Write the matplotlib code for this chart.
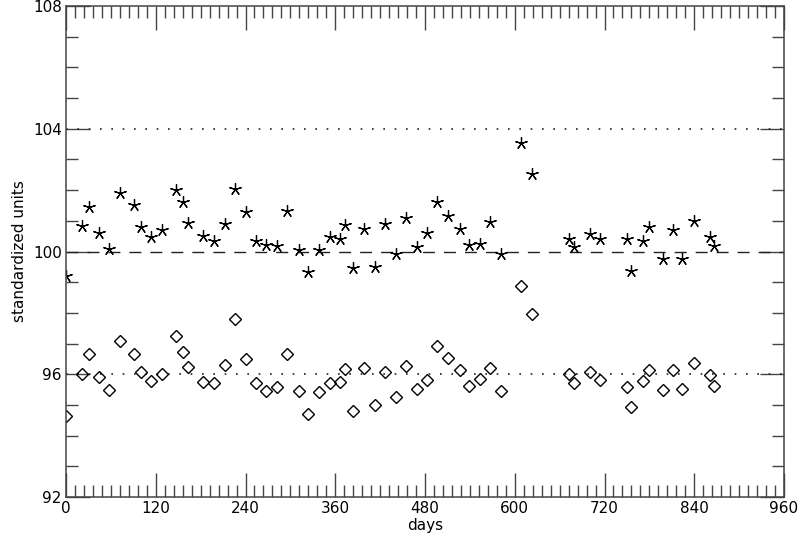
import matplotlib
matplotlib.use("Agg")
import matplotlib.pyplot as plt
from matplotlib.ticker import MultipleLocator

# sampling days (same for both series)
days = [0, 21, 31, 44, 58, 72, 91, 100, 113, 128, 147, 156, 163, 183, 198, 213,
        226, 240, 254, 268, 282, 296, 311, 324, 338, 353, 366, 373, 384, 399,
        413, 427, 441, 455, 469, 483, 496, 511, 527, 539, 553, 567, 581, 609,
        623, 672, 679, 701, 714, 750, 756, 772, 779, 798, 812, 824, 840, 861, 866]

# upper series (stars)
upper = [99.2, 100.84, 101.46, 100.59, 100.07, 101.9, 101.53, 100.79, 100.46,
         100.7, 102.01, 101.6, 100.94, 100.5, 100.35, 100.9, 102.03, 101.29,
         100.34, 100.2, 100.17, 101.31, 100.05, 99.34, 100.05, 100.46, 100.40,
         100.86, 99.47, 100.73, 99.50, 100.89, 99.91, 101.08, 100.14, 100.61,
         101.60, 101.16, 100.74, 100.21, 100.23, 100.95, 99.91, 103.55, 102.52,
         100.41, 100.16, 100.56, 100.40, 100.40, 99.37, 100.35, 100.81, 99.75,
         100.70, 99.75, 100.99, 100.48, 100.18]

# lower series (diamonds)
lower = [94.65, 96.01, 96.65, 95.92, 95.49, 97.09, 96.66, 96.07, 95.79, 96.01,
         97.25, 96.73, 96.23, 95.76, 95.72, 96.31, 97.81, 96.49, 95.72, 95.44,
         95.59, 96.67, 95.45, 94.70, 95.43, 95.70, 95.74, 96.18, 94.80, 96.19,
         95.00, 96.06, 95.25, 96.26, 95.52, 95.81, 96.91, 96.54, 96.13, 95.63,
         95.84, 96.21, 95.46, 98.89, 97.97, 96.0, 95.72, 96.08, 95.81, 95.59,
         94.94, 95.78, 96.14, 95.49, 96.14, 95.51, 96.36, 95.98, 95.62]

ref_mid = 100
ref_band = [96, 104]

fig = plt.figure(figsize=(8, 5.37), dpi=100)
ax = fig.add_axes([0.0825, 0.0745, 0.8975, 0.9143])

# reference lines: dashed at the mean, dotted at +/- 4
ax.axhline(ref_mid, color="#222222", lw=1.0, ls=(0, (8.6, 6.5)))
for r in ref_band:
    ax.axhline(r, color="#222222", lw=1.2, ls=(0, (1, 5.8)))

ax.plot(days, upper, ls="none", marker=(5, 2, 0), ms=9, mew=0.9,
        color="black")
ax.plot(days, lower, ls="none", marker="D", ms=6, mew=1.0,
        mfc="none", mec="black")

ax.set_xlim(0, 960)
ax.set_ylim(92, 108)
ax.xaxis.set_major_locator(MultipleLocator(120))
ax.xaxis.set_minor_locator(MultipleLocator(12))
ax.yaxis.set_major_locator(MultipleLocator(4))
ax.yaxis.set_minor_locator(MultipleLocator(1))
ax.tick_params(which="both", direction="in", top=True, right=True,
               colors="#444444", labelcolor="black", labelsize=11, width=1.0)
ax.tick_params(which="major", length=17, pad=3)
ax.tick_params(which="minor", length=8.5)
for s in ax.spines.values():
    s.set_color("#444444")
    s.set_linewidth(1.1)

ax.set_xlabel("days", fontsize=11, labelpad=1)
ax.set_ylabel("standardized units", fontsize=11, labelpad=4)

fig.savefig("out.png", dpi=100)
